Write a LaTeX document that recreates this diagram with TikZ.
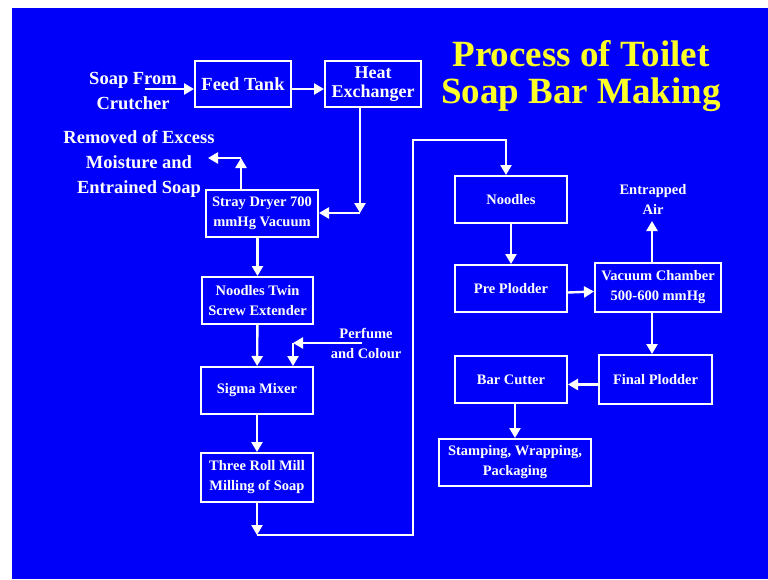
\documentclass[tikz,border=0pt]{standalone}
\usepackage{fontspec}
\setmainfont{Liberation Serif}
\usetikzlibrary{arrows.meta, calc}
\definecolor{slideblue}{RGB}{0, 0, 250}
\definecolor{titleyellow}{RGB}{255, 255, 40}

\begin{document}
\begin{tikzpicture}[x=1pt, y=-1pt,
  box/.style={draw=white, line width=2pt, text=white, align=center, inner sep=0pt,
    font=\fontsize{14.5}{20}\selectfont\bfseries, minimum width=112pt, minimum height=47pt},
  note/.style={text=white, align=center, inner sep=0pt, font=\fontsize{14.5}{20}\selectfont\bfseries},
  flow/.style={white, line width=2.4pt, -{Triangle[length=10pt, width=11pt]}}]

  % 背景
  \useasboundingbox (0,0) rectangle (768,579);
  \fill[slideblue] (12,8) rectangle (768,579);

  % 标题
  \node[titleyellow, align=center, inner sep=0pt, font=\fontsize{37}{37}\selectfont\bfseries]
    (title) at (581,76) {Process of Toilet\\Soap Bar Making};

  % 左侧流程
  \node[box, minimum width=96pt, minimum height=46pt, font=\fontsize{18.5}{22}\selectfont\bfseries]
    (feed) at (243,84) {Feed Tank};
  \node[box, minimum width=96pt, minimum height=46pt, font=\fontsize{18}{19}\selectfont\bfseries]
    (hx) at (373,84) {Heat\\Exchanger};
  \node[box] (dryer) at (262,213) {Stray Dryer 700\\mmHg Vacuum};
  \node[box, minimum width=111pt] (twin) at (257.5,300.5) {Noodles Twin\\Screw Extender};
  \node[box] (sigma) at (257,390.5) {Sigma Mixer};
  \node[box, minimum height=49pt] (mill) at (257,477.5) {Three Roll Mill\\Milling of Soap};

  % 右侧流程
  \node[box] (noodles) at (511,199.5) {Noodles};
  \node[box] (pre) at (511,288.5) {Pre Plodder};
  \node[box, minimum width=126pt, minimum height=49pt] (vac) at (658,287.5) {Vacuum Chamber\\500-600 mmHg};
  \node[box, minimum width=113pt, minimum height=49pt] (final) at (655.5,379.5) {Final Plodder};
  \node[box] (bar) at (511,379.5) {Bar Cutter};
  \node[box, minimum width=152pt] (stamp) at (515,462.5) {Stamping, Wrapping,\\Packaging};

  % 进出物料说明
  \node[note, font=\fontsize{18.5}{25}\selectfont\bfseries] (crutcher) at (133,91) {Soap From\\Crutcher};
  \node[note, font=\fontsize{18.5}{25}\selectfont\bfseries] (removed) at (139,164)
    {Removed of Excess\\Moisture and\\Entrained Soap};
  \node[note] (perfume) at (366,343.5) {Perfume\\and Colour};
  \node[note] (air) at (653,199) {Entrapped\\Air};

  % 转折点
  \coordinate (src) at (145,89);
  \coordinate (hxturn) at (360,213);
  \coordinate (vent) at (241,158);
  \coordinate (ventend) at (208,158);
  \coordinate (perf) at (362,343);
  \coordinate (perfturn) at (293,343);
  \coordinate (loopA) at (257,535);
  \coordinate (loopB) at (413,140);
  \coordinate (airout) at (652,221);

  % 左侧连线
  \draw[flow] (src) -- (src -| feed.west);
  \draw[flow] (feed.east |- src) -- (hx.west |- src);
  \draw[flow] (hx.south -| hxturn) -- (hxturn);
  \draw[flow] (hxturn) -- (dryer.east |- hxturn);
  \draw[flow] (dryer.north -| vent) -- (vent);
  \draw[flow] (vent) -- (ventend);
  \draw[flow] (dryer.south -| twin.north) -- (twin.north);
  \draw[flow] (twin) -- (sigma);
  \draw[flow] (perf) -- (perfturn);
  \draw[flow] (perfturn) -- (sigma.north -| perfturn);
  \draw[flow] (sigma) -- (mill);
  \draw[flow] (mill.south) -- (loopA);

  % 回路到右侧
  \draw[flow] (loopA) -| (loopB) -| ([xshift=-5pt]noodles.north);

  % 右侧连线
  \draw[flow] (noodles) -- (pre);
  \draw[flow] ([yshift=-4pt]pre.east) -- ([yshift=-4pt]vac.west);
  \draw[flow] (vac.north -| airout) -- (airout);
  \draw[flow] ([xshift=-6pt]vac.south) -- ([xshift=-6pt]vac.south |- final.north);
  \draw[flow] ([yshift=-5pt]final.west) -- ([yshift=-5pt]bar.east);
  \draw[flow] (bar.south -| stamp.north) -- (stamp.north);
\end{tikzpicture}
\end{document}
